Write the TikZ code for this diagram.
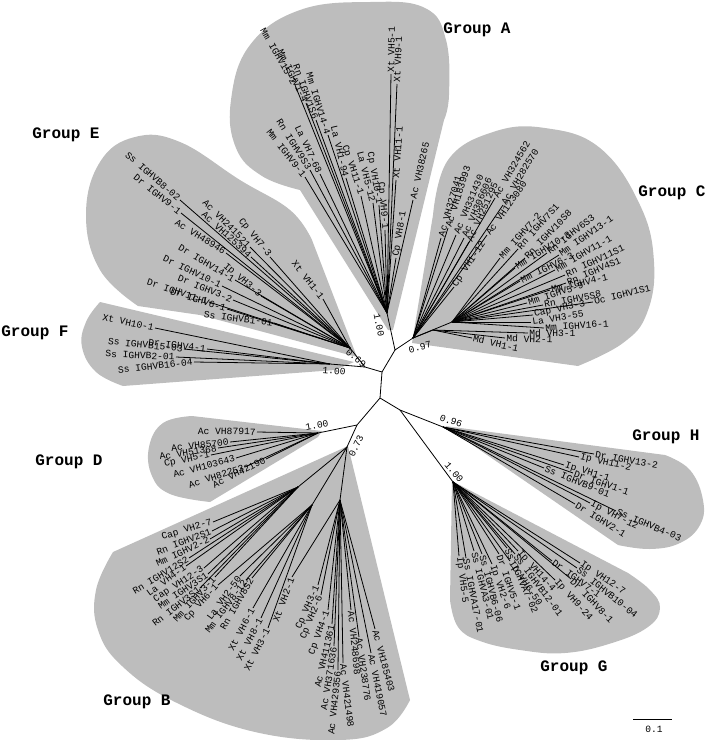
\documentclass[tikz,border=0pt]{standalone}
\usepackage{fontspec}
\setmainfont{Liberation Mono}
\definecolor{grp}{RGB}{189,189,189}
\tikzset{
 br/.style={line width=0.8pt, black},
 lab/.style={font=\fontsize{9.6}{10}\selectfont, inner sep=1.2pt},
 glab/.style={font=\fontsize{16}{18}\selectfont\bfseries, inner sep=0pt},
 boot/.style={font=\fontsize{9.6}{10}\selectfont, inner sep=0pt},
 blob/.style={fill=grp, draw=none},
}
% \lf[text rotation]{from}{tip}{name}{text}
\newcommand\lf[5][]{%
  \coordinate (#4) at #3;
  \draw[br] (#2) -- (#4);
  \pgfmathanglebetweenpoints{\pgfpointanchor{#2}{center}}{\pgfpointanchor{#4}{center}}%
  \pgfmathsetmacro\lfang{mod(\pgfmathresult+720,360)}%
  \def\lfleft{0}%
  \ifdim\lfang pt>90pt\relax\ifdim\lfang pt<270pt\relax\def\lfleft{1}\fi\fi
  \if1\lfleft
    \pgfmathsetmacro\lfrot{\lfang-180}\def\lfanc{east}%
  \else
    \let\lfrot\lfang\def\lfanc{west}%
  \fi
  \def\lfopt{#1}%
  \ifx\lfopt\empty\else\def\lfrot{#1}\fi
  \node[lab,anchor=\lfanc,rotate=\lfrot] (#4t) at (#4) {#5};}
\begin{document}
\begin{tikzpicture}[x=1pt,y=-1pt]
\useasboundingbox (0,0) rectangle (708,740);
% ---------- grey group areas ----------
\fill[blob] (388,330) -- (300,190) -- plot[smooth,tension=0.7] coordinates {(300,190) (262,176) (236,148) (231,100) (250,45) (300,10) (370,2) (425,8) (446,40) (449,95) (444,120)} -- (393,330) -- cycle;
\fill[blob] (412,343) -- (433,215) -- plot[smooth,tension=0.7] coordinates {(433,215) (448,160) (493,132) (545,128) (600,148) (640,205) (654,262) (647,313) (623,343) (578,366)} -- cycle;
\fill[blob] (357,357) -- (312,240) -- plot[smooth,tension=0.7] coordinates {(312,240) (290,210) (240,180) (180,142) (135,137) (100,162) (86,215) (100,270) (138,306)} -- (200,315) -- cycle;
\fill[blob] (354,362) -- (100,302) -- plot[smooth,tension=0.7] coordinates {(100,302) (86,322) (82,347) (96,372) (123,386)} -- (335,370) -- cycle;
\fill[blob] (322,431) -- (192,416) -- plot[smooth,tension=0.7] coordinates {(192,416) (163,423) (149,447) (152,476) (170,494) (210,502)} -- (318,437) -- cycle;
\fill[blob] (348,446) -- (113,552) -- plot[smooth,tension=0.7] coordinates {(113,552) (96,590) (98,630) (122,666) (175,702) (255,732) (340,740) (387,728) (410,700)} -- cycle;
\fill[blob] (445,426) -- (665,455) -- plot[smooth,tension=0.7] coordinates {(665,455) (690,470) (703,500) (700,525) (680,543) (650,549) (618,545)} -- cycle;
\fill[blob] (452,481) -- (450,600) -- plot[smooth,tension=0.7] coordinates {(450,600) (458,627) (480,641) (520,650) (565,653) (612,643) (648,627) (660,608) (650,590) (628,573)} -- cycle;
% ---------- backbone ----------
\coordinate (NA) at (387,313);
\coordinate (N1) at (395,350);
\coordinate (NC) at (413,338);
\coordinate (C2) at (452,322);
\coordinate (CM) at (433,330);
\coordinate (H1) at (382,372);
\coordinate (NEF) at (365,367);
\coordinate (NE) at (350,348);
\coordinate (NF) at (330,364);
\coordinate (H2) at (380,398);
\coordinate (HG) at (400,410);
\coordinate (NH) at (443,427);
\coordinate (NG) at (453,482);
\coordinate (NDB) at (357,425);
\coordinate (ND) at (318,433);
\coordinate (NB) at (347,447);
\coordinate (BM) at (298,487);
\coordinate (BX) at (312,505);
\coordinate (BA) at (340,500);
\draw[br] (NA) -- (N1) -- (NC);
\draw[br] (N1) -- (H1) -- (NEF) -- (NE);
\draw[br] (NEF) -- (NF);
\draw[br] (H1) -- (H2) -- (HG) -- (NH);
\draw[br] (HG) -- (NG);
\draw[br] (H2) -- (NDB) -- (ND);
\draw[br] (NDB) -- (NB);
\draw[br] (NC) -- (C2);
\draw[br] (NC) -- (CM);
\draw[br] (NB) -- (BM);
\draw[br] (NB) -- (BX);
\draw[br] (NB) -- (BA);
% ---------- Group A ----------
\lf{NA}{(391,74)}{a1}{Xt VH5-1}
\lf{NA}{(397,84)}{a2}{Xt VH9-1}
\lf{NA}{(396,180)}{a3}{Xt VH11-1}
\lf{NA}{(413,200)}{a4}{Ac VH38265}
\lf{NA}{(396,258)}{a5}{Cp VH8-1}
\lf[-85]{NA}{(385,230)}{a6}{Cp VH9-1}
\lf[-80]{NA}{(379,205)}{a7}{Cp VH10-1}
\lf[-76]{NA}{(373,203)}{a8}{La VH5-12}
\lf[-72]{NA}{(361,196)}{a9}{Cp VH11-1}
\lf[-77]{NA}{(346,178)}{a10}{La VH1-94}
\lf[-73]{NA}{(328,135)}{a11}{Mm IGHV14-4}
\lf[-70]{NA}{(316,120)}{a12}{Rn IGHV1S6}
\lf[-64]{NA}{(306,103)}{a13}{Mm IGHV1-4}
\lf[-60]{NA}{(295,85)}{a14}{Mm IGHV15-2}
\lf[-65]{NA}{(320,174)}{a15}{La VH7-68}
\lf[-58]{NA}{(310,170)}{a16}{Rn IGHV9S3}
\lf[-52]{NA}{(305,177)}{a17}{Mm IGHV9-1}
% ---------- Group C ----------
\lf{NC}{(441,238)}{c1}{Ac VH327041}
\lf{NC}{(448,228)}{c2}{Ac VH183993}
\lf{NC}{(456,235)}{c3}{Ac VH331430}
\lf[67]{NC}{(464,238)}{c4}{Ac VH306606}
\lf[66]{NC}{(469,242)}{c5}{Ac VH251295}
\lf{NC}{(495,198)}{c6}{Ac VH324562}
\lf[59]{NC}{(503,205)}{c7}{Ac VH282570}
\lf{NC}{(487,235)}{c8}{Ac VH123080}
\lf[56]{NC}{(454,287)}{c9}{Cp VH1-12}
\lf[48]{C2}{(500,258)}{c10}{Mm IGHV7-2}
\lf[48]{C2}{(518,249)}{c11}{Rn IGHV7S1}
\lf[46]{C2}{(525,258)}{c12}{Rn IGHV10S8}
\lf[32]{C2}{(515,268)}{c13}{Mm IGHV10-3}
\lf[38]{C2}{(547,253)}{c14}{Rn IGHV6S3}
\lf[35]{C2}{(559,255)}{c15}{Mm IGHV13-1}
\lf[26]{C2}{(520,281)}{c16}{Mm IGHV6-3}
\lf[30]{C2}{(555,270)}{c17}{Mm IGHV11-1}
\lf[25]{C2}{(565,275)}{c18}{Rn IGHV11S1}
\lf[23]{C2}{(566,283)}{c19}{Rn IGHV4S1}
\lf[13]{C2}{(550,290)}{c20}{Mm IGHV4-1}
\lf[18]{C2}{(527,303)}{c21}{Mm IGHV5-9}
\lf[11]{C2}{(543,305)}{c22}{Rn IGHV5S8}
\lf[14]{C2}{(593,302)}{c23}{Oc IGHV1S1}
\lf[12]{C2}{(533,315)}{c24}{Cap VH3-3}
\lf[9]{C2}{(531,322)}{c25}{La VH3-55}
\lf[4]{C2}{(544,328)}{c26}{Mm IGHV16-1}
\lf[0]{CM}{(528,333)}{c27}{Md VH3-1}
\lf[-2]{CM}{(505,338)}{c28}{Md VH2-1}
\lf[-13]{CM}{(472,338)}{c29}{Md VH1-1}
% ---------- Group E ----------
\lf{NE}{(180,200)}{e1}{Ss IGHVB8-02}
\lf{NE}{(181,213)}{e2}{Dr IGHV9-1}
\lf{NE}{(250,247)}{e3}{Ac VH241521}
\lf[-51]{NE}{(270,257)}{e4}{Cp VH7-3}
\lf{NE}{(251,257)}{e5}{Ac VH125394}
\lf[-32]{NE}{(226,253)}{e6}{Ac VH48946}
\lf[-52]{NE}{(323,299)}{e7}{Xt VH1-1}
\lf[-40]{NE}{(261,296)}{e8}{Ip VH3-3}
\lf{NE}{(235,280)}{e9}{Dr IGHV14-1}
\lf{NE}{(222,286)}{e10}{Dr IGHV10-1}
\lf{NE}{(233,300)}{e11}{Dr IGHV3-2}
\lf{NE}{(209,302)}{e12}{Dr IGHV11-1}
\lf{NE}{(227,309)}{e13}{Dr IGHV6-1}
\lf[-7]{NE}{(274,323)}{e14}{Ss IGHVB1-01}
% ---------- Group F ----------
\lf{NF}{(155,328)}{f1}{Xt VH10-1}
\lf{NF}{(207,349)}{f2}{Dr IGHV4-1}
\lf{NF}{(184,349)}{f3}{Ss IGHVB15-03}
\lf{NF}{(176,357)}{f4}{Ss IGHVB2-01}
\lf[6]{NF}{(194,362)}{f5}{Ss IGHVB16-04}
% ---------- Group D ----------
\lf{ND}{(257,432)}{d1}{Ac VH87917}
\lf{ND}{(230,442)}{d2}{Ac VH85700}
\lf{ND}{(218,448)}{d3}{Ac VH51368}
\lf{ND}{(211,455)}{d4}{Cp VH5-1}
\lf[15]{ND}{(236,458)}{d5}{Ac VH103643}
\lf[18]{ND}{(245,467)}{d6}{Ac VH82253}
\lf{ND}{(266,459)}{d7}{Ac VH42190}
% ---------- Group B ----------
\lf[17]{BM}{(213,522)}{b1}{Cap VH2-7}
\lf[21]{BM}{(212,531)}{b2}{Rn IGHV2S1}
\lf[25]{BM}{(210,539)}{b3}{Mm IGHV2-2}
\lf[31]{BM}{(189,558)}{b4}{Rn IGHV12S2}
\lf[36]{BM}{(186,566)}{b5}{La VH4-1}
\lf[33]{BM}{(204,568)}{b6}{Cap VH12-3}
\lf[34]{BM}{(208,574)}{b7}{Mm IGHV3S1}
\lf[38]{BM}{(200,588)}{b8}{Rn IGHV3S1}
\lf[47]{BM}{(215,577)}{b9}{Mm IGHV3-1}
\lf[48]{BX}{(218,585)}{b10}{Cp VH6-1}
\lf[54]{BX}{(240,576)}{b11}{La VH2-50}
\lf[53]{BX}{(246,580)}{b12}{Mm IGHV8-12}
\lf[60]{BX}{(252,578)}{b13}{Rn IGHV8S2}
\lf[62]{BX}{(253,608)}{b14}{Xt VH6-1}
\lf[62]{BX}{(261,618)}{b15}{Xt VH8-1}
\lf[63]{BX}{(268,628)}{b16}{Xt VH3-1}
\lf[70]{BA}{(292,577)}{b17}{Xt VH2-1}
\lf[66]{BA}{(318,585)}{b18}{Cp VH3-1}
\lf[68]{BA}{(321,595)}{b19}{Cp VH2-6}
\lf[70]{BA}{(328,610)}{b20}{Cp VH4-1}
\lf[77]{BA}{(332,624)}{b21}{Ac VH411361}
\lf[81]{BA}{(334,646)}{b22}{Ac VH371636}
\lf[84]{BA}{(338,670)}{b23}{Ac VH429356}
\lf[-83]{BA}{(343,663)}{b24}{Ac VH421498}
\lf{BA}{(351,610)}{b25}{Ac VH248698}
\lf{BA}{(359,637)}{b26}{Ac VH238776}
\lf{BA}{(371,653)}{b27}{Ac VH419057}
\lf{BA}{(375,629)}{b28}{Ac VH185403}
% ---------- Group H ----------
\lf{NH}{(594,454)}{h1}{Dr IGHV13-2}
\lf{NH}{(579,457)}{h2}{Ip VH11-2}
\lf{NH}{(564,465)}{h3}{Ip VH1-1}
\lf{NH}{(573,473)}{h4}{Dr IGHV1-1}
\lf{NH}{(544,468)}{h5}{Ss IGHVB9-01}
\lf{NH}{(590,503)}{h6}{Ip VH7-12}
\lf[-23]{NH}{(616,511)}{h7}{Ss IGHVB4-03}
\lf[-32]{NH}{(575,504)}{h8}{Dr IGHV2-1}
% ---------- Group G ----------
\lf[-83]{NG}{(459,556)}{g1}{Ip VH5-5}
\lf[-79]{NG}{(466,558)}{g2}{Ss IGHVA17-01}
\lf[-76]{NG}{(474,551)}{g3}{Ss IGHVA3-01}
\lf[-75]{NG}{(482,554)}{g4}{Ss IGHVB6-06}
\lf[-71]{NG}{(492,564)}{g5}{Ip VH2-6}
\lf[-71]{NG}{(499,554)}{g6}{Dr IGHV5-1}
\lf[-66]{NG}{(507,548)}{g7}{Ss IGHVA7-02}
\lf[-56]{NG}{(510,561)}{g8}{Ip VH6-50}
\lf[-53]{NG}{(515,554)}{g9}{Ss IGHVB12-01}
\lf[-48]{NG}{(518,551)}{g10}{Ip VH14-4}
\lf[-48]{NG}{(555,580)}{g11}{Ip VH9-24}
\lf[-36]{NG}{(552,561)}{g12}{Dr IGHV7-1}
\lf[-46]{NG}{(571,579)}{g13}{Dr IGHV8-1}
\lf[-39]{NG}{(577,568)}{g14}{Ss IGHVB10-04}
\lf[-34]{NG}{(580,563)}{g15}{Ip VH12-7}
% ---------- support values ----------
\node[boot,rotate=-78] (bA) at (379,325) {1.00};
\node[boot,rotate=15] (bC) at (420,347) {0.97};
\node[boot,rotate=-40] (bE) at (356,358) {0.69};
\node[boot,rotate=-4] (bF) at (334,371) {1.00};
\node[boot,rotate=10] (bD) at (317,425) {1.00};
\node[boot,rotate=65] (bB) at (356,446) {0.73};
\node[boot,rotate=-20] (bH) at (451,421) {0.96};
\node[boot,rotate=-50] (bG) at (454,472) {1.00};
% ---------- group names ----------
\node[glab] (gA) at (477,30) {Group A};
\node[glab] (gC) at (672,193) {Group C};
\node[glab] (gE) at (66,135) {Group E};
\node[glab] (gF) at (35,333) {Group F};
\node[glab] (gD) at (69,462) {Group D};
\node[glab] (gB) at (137,702) {Group B};
\node[glab] (gH) at (666,437) {Group H};
\node[glab] (gG) at (574,668) {Group G};
% ---------- scale bar ----------
\coordinate (s1) at (633,719);
\coordinate (s2) at (672,719);
\draw[line width=1pt] (s1) -- (s2);
\node[boot] (sl) at (654,729) {0.1};
\end{tikzpicture}
\end{document}
